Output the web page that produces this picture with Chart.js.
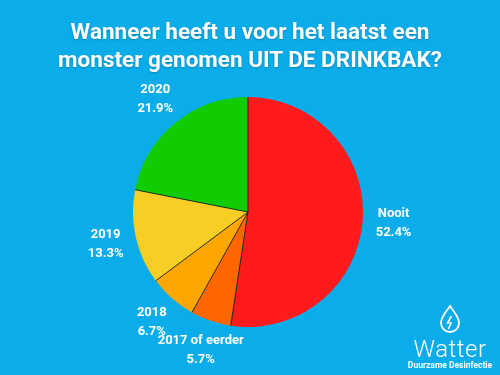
<!DOCTYPE html>
<html>
<head>
<meta charset="utf-8">
<script src="https://cdn.jsdelivr.net/npm/chart.js@4"></script>
<style>
    html, body { margin: 0; padding: 0; }
    body { width: 500px; height: 375px; background: #0aadea; position: relative; overflow: hidden; font-family: Roboto, sans-serif; }
    #title { position: absolute; left: 0; top: 17px; width: 500px; text-align: center; color: #fff; font-weight: bold; font-size: 22.5px; line-height: 28px; text-shadow: 0 1px 2px rgba(0,0,0,0.25); }
    #wrap { position: absolute; left: 0; top: 0; width: 500px; height: 375px; }
    #logo { position: absolute; left: 404px; top: 304px; width: 92px; text-align: center; color: #fff; }
    #logo .name { font-size: 24px; font-weight: 300; line-height: 22px; letter-spacing: 0.5px; }
    #logo .sub { font-size: 8.5px; font-weight: bold; line-height: 11px; }
</style>
</head>
<body>
<div id="wrap"><canvas id="pieChart"></canvas></div>
<div id="title">Wanneer heeft u voor het laatst een<br>monster genomen UIT DE DRINKBAK?</div>
<div id="logo">
    <svg width="22" height="30" viewBox="0 0 22 30">
        <path d="M11 2 C 7 8, 2 13, 2 19 A 9 9 0 0 0 20 19 C 20 13, 15 8, 11 2 Z" fill="none" stroke="#fff" stroke-width="1.8"/>
        <path d="M12.5 12 L8.5 19 L12 19 L9.5 25" fill="none" stroke="#fff" stroke-width="1.6"/>
    </svg>
    <div class="name">Watter</div>
    <div class="sub">Duurzame Desinfectie</div>
</div>
<script>
    // Chart data
    const labels = ['Nooit', '2017 of eerder', '2018', '2019', '2020'];
    const percentages = [52.4, 5.7, 6.7, 13.3, 21.9];
    const sliceColors = ['#ff1a1c', '#ff6600', '#ffa600', '#f9ce24', '#11cc00'];

    // Thin dark lines between slices (not around the outer edge)
    const dividerPlugin = {
        id: 'dividers',
        afterDatasetsDraw(chart) {
            const ctx = chart.ctx;
            const arcs = chart.getDatasetMeta(0).data;
            ctx.save();
            ctx.strokeStyle = 'rgba(20,20,20,0.85)';
            ctx.lineWidth = 1;
            arcs.forEach(function(arc) {
                ctx.beginPath();
                ctx.moveTo(arc.x, arc.y);
                ctx.lineTo(arc.x + Math.cos(arc.startAngle) * arc.outerRadius, arc.y + Math.sin(arc.startAngle) * arc.outerRadius);
                ctx.stroke();
            });
            ctx.restore();
        }
    };

    // Labels outside each slice: name + percentage
    const outsideLabels = {
        id: 'outsideLabels',
        afterDatasetsDraw(chart) {
            const ctx = chart.ctx;
            const arcs = chart.getDatasetMeta(0).data;
            ctx.save();
            ctx.fillStyle = '#fff';
            ctx.font = 'bold 13px Roboto';
            ctx.textAlign = 'center';
            ctx.textBaseline = 'middle';
            arcs.forEach(function(arc, i) {
                const mid = (arc.startAngle + arc.endAngle) / 2;
                const r = arc.outerRadius + 31;
                const x = arc.x + Math.cos(mid) * r;
                const y = arc.y + Math.sin(mid) * r;
                ctx.fillText(labels[i], x, y - 9.5);
                ctx.fillText(percentages[i].toFixed(1) + '%', x, y + 9.5);
            });
            ctx.restore();
        }
    };

    const ctx = document.getElementById('pieChart').getContext('2d');
    const pieChart = new Chart(ctx, {
        type: 'pie',
        data: {
            labels: labels,
            datasets: [{
                data: percentages,
                backgroundColor: sliceColors,
                borderWidth: 0
            }]
        },
        options: {
            responsive: true,
            maintainAspectRatio: false,
            animation: false,
            layout: {
                padding: { top: 97, bottom: 48, left: 0, right: 4 }
            },
            plugins: {
                legend: { display: false },
                tooltip: { enabled: false }
            }
        },
        plugins: [dividerPlugin, outsideLabels]
    });
</script>
</body>
</html>
